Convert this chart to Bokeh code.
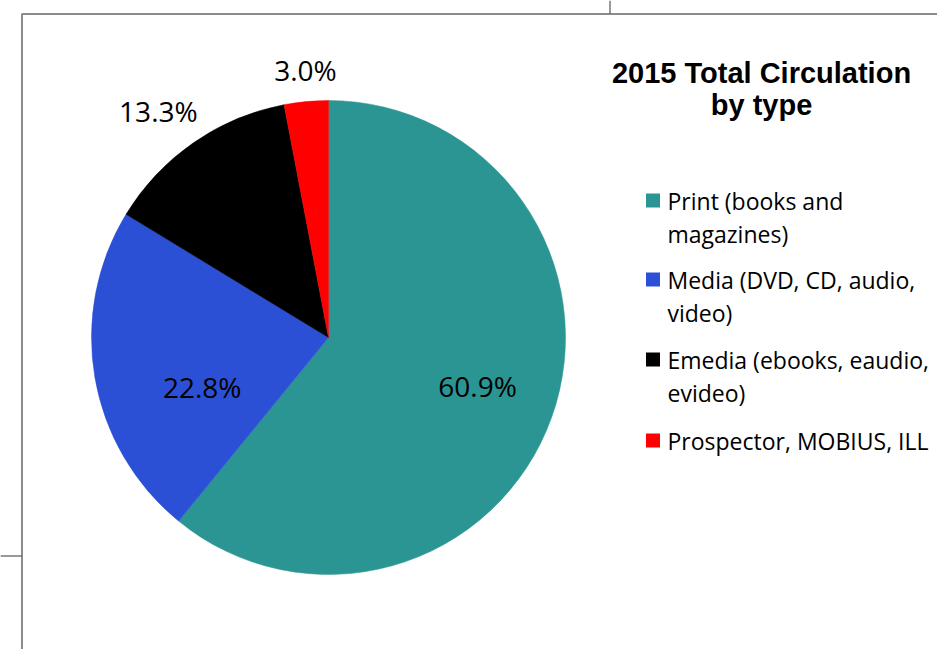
import numpy as np
from bokeh.plotting import figure
from bokeh.models import Range1d, ColumnDataSource
from bokeh.core.properties import value
from bokeh.embed import file_html
from bokeh.resources import INLINE

# ---- data ----
categories = ["Print (books and magazines)", "Media (DVD, CD, audio, video)",
              "Emedia (ebooks, eaudio, evideo)", "Prospector, MOBIUS, ILL"]
legend_lines = [["Print (books and", "magazines)"],
                ["Media (DVD, CD, audio,", "video)"],
                ["Emedia (ebooks, eaudio,", "evideo)"],
                ["Prospector, MOBIUS, ILL"]]
shares = [60.9, 22.8, 13.3, 3.0]
colors = ["#2A9592", "#2B50D6", "#000000", "#FF0000"]
title_lines = ["2015 Total Circulation", "by type"]

# ---- layout (pixels, y measured from top) ----
W, H = 937, 649
CX, CY, R = 328, 337, 237
label_r = [0.66, 0.57, 1.20, 1.14]
label_da = [2.0, 11.0, 2.0, -0.5]   # degrees tweak
FONT = "Open Sans"


def Y(y):
    return H - y


p = figure(width=W, height=H, output_backend="svg", toolbar_location=None,
           x_range=Range1d(0, W), y_range=Range1d(0, H), min_border=0)
p.axis.visible = False
p.grid.visible = False
p.outline_line_color = None
p.background_fill_color = "white"

# frame lines
p.line([21.5, 21.5, W], [0, Y(13.5), Y(13.5)], line_color="#8c8c8c", line_width=2)
p.line([609.5, 609.5], [Y(0), Y(13)], line_color="#333333", line_width=1)
p.line([0, 21], [Y(555.5), Y(555.5)], line_color="#333333", line_width=1)

vals = np.array(shares)
frac = vals / vals.sum()
cum = np.concatenate([[0], np.cumsum(frac)])
start = np.pi / 2 - 2 * np.pi * cum[:-1]
end = np.pi / 2 - 2 * np.pi * cum[1:]
src = ColumnDataSource(dict(x=[CX] * 4, y=[Y(CY)] * 4, start=start, end=end, color=colors))
p.wedge(x="x", y="y", radius=R, start_angle="start", end_angle="end", direction="clock",
        fill_color="color", line_color="color", line_width=0.5, source=src)

mid = (start + end) / 2 + np.radians(label_da)
lx = CX + np.array(label_r) * R * np.cos(mid)
ly = Y(CY) + np.array(label_r) * R * np.sin(mid)
p.text(x=lx, y=ly - 1.5, text=[f"{v:.1f}%" for v in shares], text_align="center",
       text_baseline="middle", text_font=value(FONT), text_font_size="28px",
       text_color="black")

# title
p.text(x=[761, 761], y=[Y(72), Y(104)], text=title_lines, text_align="center",
       text_baseline="middle", text_font=value("Liberation Sans"), text_font_style="bold",
       text_font_size="29px", text_color="black")

# legend
leg_top = [200, 279, 359, 440]
line_h = 33
for i, lines in enumerate(legend_lines):
    p.rect(x=[652.5], y=[Y(leg_top[i])], width=14, height=14, fill_color=colors[i],
           line_color=None)
    p.text(x=[667] * len(lines), y=[Y(leg_top[i] + k * line_h) for k in range(len(lines))],
           text=lines, text_align="left", text_baseline="middle", text_font=value(FONT),
           text_font_size="23px", text_color="black")

open("out.html", "w").write(file_html(p, INLINE))
